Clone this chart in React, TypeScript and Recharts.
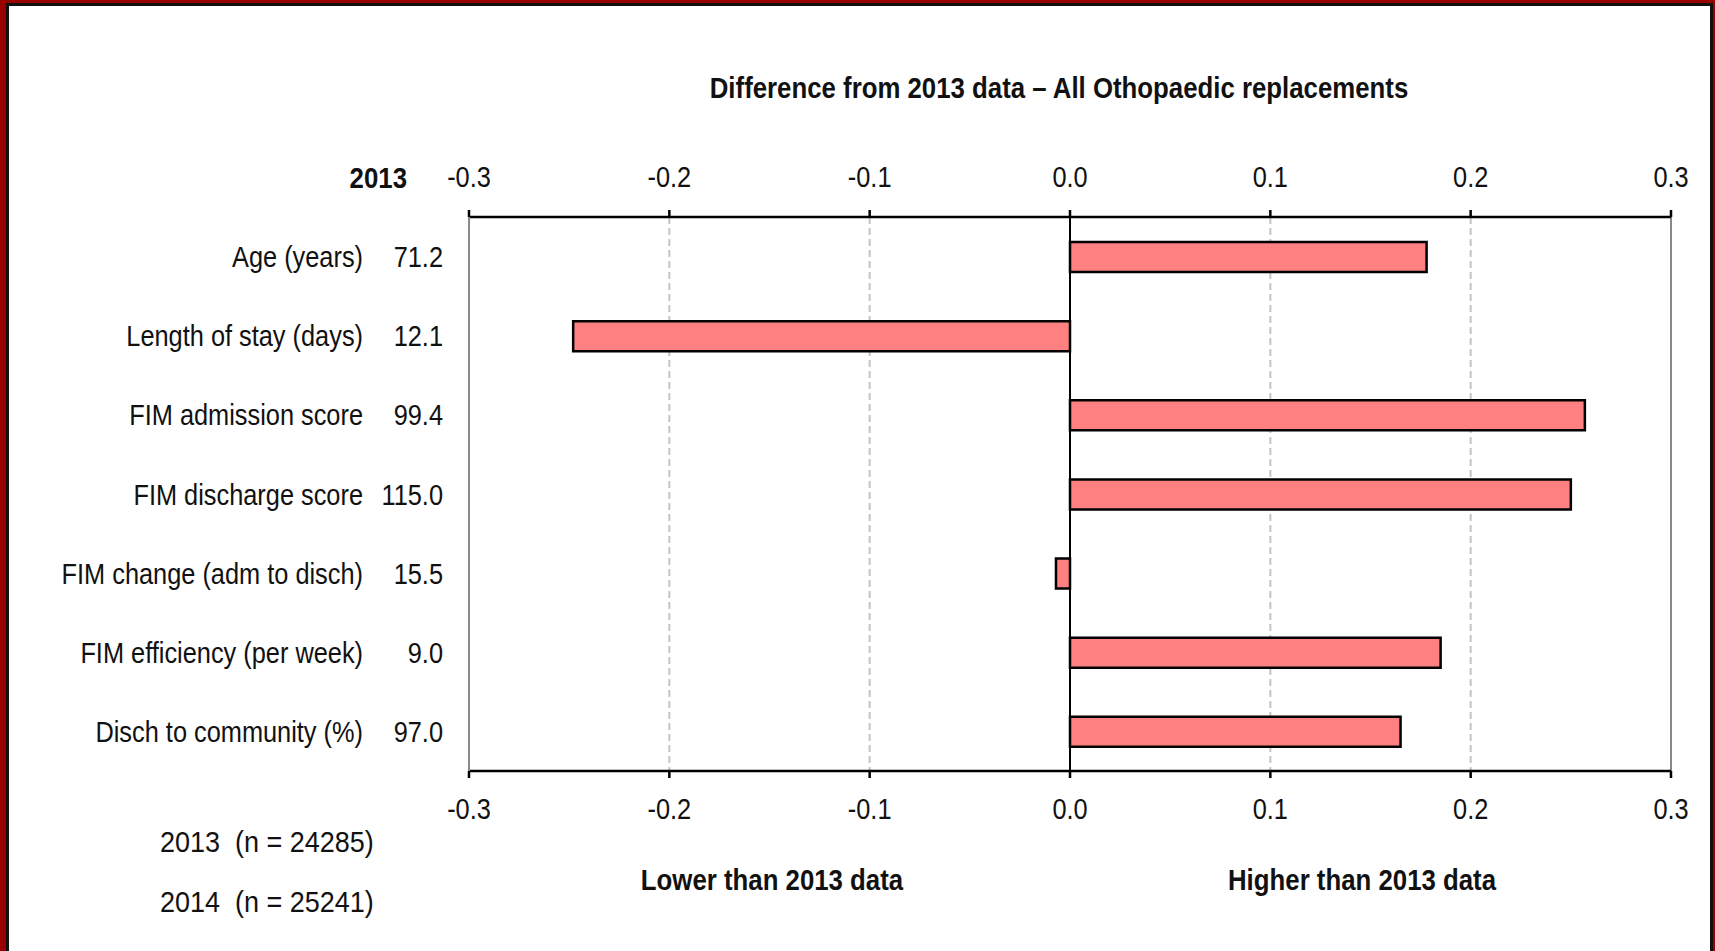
import React from 'react';
import { BarChart, Bar, XAxis, YAxis, CartesianGrid, ReferenceLine } from 'recharts';

const categories = [
  'Age (years)',
  'Length of stay (days)',
  'FIM admission score',
  'FIM discharge score',
  'FIM change (adm to disch)',
  'FIM efficiency (per week)',
  'Disch to community (%)',
];
const values2013 = ['71.2', '12.1', '99.4', '115.0', '15.5', '9.0', '97.0'];
const differences = [0.178, -0.248, 0.257, 0.25, -0.007, 0.185, 0.165];
const xTicks = [-0.3, -0.2, -0.1, 0, 0.1, 0.2, 0.3];

const chartTitle = 'Difference from 2013 data \u2013 All Othopaedic replacements';
const yearHeader = '2013';
const sampleLines = ['2013  (n = 24285)', '2014  (n = 25241)'];
const lowerLabel = 'Lower than 2013 data';
const higherLabel = 'Higher than 2013 data';

const data = categories.map((name, i) => ({ name, value2013: values2013[i], diff: differences[i] }));

const FONT = '"Liberation Sans", Arial, sans-serif';
const FS = 30;
const SX = 0.845;

const NText = ({ x, y, anchor = 'middle', bold = false, size = FS, sx = SX, dy = '0.35em', children }: any) => (
  <text
    transform={`translate(${x},${y}) scale(${sx},1)`}
    x={0}
    y={0}
    dy={dy}
    textAnchor={anchor}
    fontFamily={FONT}
    fontSize={size}
    fontWeight={bold ? 'bold' : 'normal'}
    fill="#111"
    style={{ whiteSpace: 'pre' }}
  >
    {children}
  </text>
);

const TopTick = (props: any) => {
  const { x, y, payload } = props;
  return <NText x={x} y={y} dy="0">{Number(payload.value).toFixed(1)}</NText>;
};

const BottomTick = (props: any) => {
  const { x, y, payload } = props;
  return <NText x={x} y={y} dy="0.71em">{Number(payload.value).toFixed(1)}</NText>;
};

const CatTick = (props: any) => {
  const { x, y, payload } = props;
  const idx = payload.index;
  return (
    <g>
      <NText x={x - 80} y={y} anchor="end">{payload.value}</NText>
      <NText x={x} y={y} anchor="end">{values2013[idx]}</NText>
    </g>
  );
};

export default function App() {
  return (
    <div style={{ position: 'absolute', left: 0, top: 0, width: 1715, height: 951, background: '#9b0000', overflow: 'hidden' }}>
      <div
        style={{
          position: 'absolute',
          left: 6,
          top: 3,
          width: 1707,
          height: 960,
          background: '#fff',
          border: '3px solid #111',
          boxSizing: 'border-box',
        }}
      />
      <div style={{ position: 'absolute', left: 0, top: 0 }}>
        <BarChart
          width={1715}
          height={951}
          layout="vertical"
          data={data}
          margin={{ top: 177, right: 44, bottom: 140, left: 0 }}
          barSize={30}
        >
          <CartesianGrid xAxisId="bottom" horizontal={false} stroke="#c4c4c4" strokeWidth={2} strokeDasharray="7 4" />
          <XAxis
            xAxisId="top"
            orientation="top"
            type="number"
            domain={[-0.3, 0.3]}
            ticks={xTicks}
            height={40}
            tickSize={7}
            tickMargin={23}
            axisLine={{ stroke: '#000', strokeWidth: 2.5 }}
            tickLine={{ stroke: '#000', strokeWidth: 2.5 }}
            tick={<TopTick />}
            allowDataOverflow
          />
          <XAxis
            xAxisId="bottom"
            orientation="bottom"
            type="number"
            domain={[-0.3, 0.3]}
            ticks={xTicks}
            height={40}
            tickSize={7}
            tickMargin={20}
            axisLine={{ stroke: '#000', strokeWidth: 2.5 }}
            tickLine={{ stroke: '#000', strokeWidth: 2.5 }}
            tick={<BottomTick />}
            allowDataOverflow
          />
          <YAxis
            type="category"
            dataKey="name"
            width={469}
            tickLine={false}
            tickSize={0}
            tickMargin={26}
            axisLine={{ stroke: '#888', strokeWidth: 2 }}
            tick={<CatTick />}
            interval={0}
          />
          <ReferenceLine xAxisId="bottom" x={0.3} stroke="#888" strokeWidth={2} />
          <ReferenceLine xAxisId="bottom" x={0} stroke="#000" strokeWidth={2} />
          <Bar
            xAxisId="bottom"
            dataKey="diff"
            fill="#ff8080"
            stroke="#000"
            strokeWidth={2.5}
            isAnimationActive={false}
          />
        </BarChart>
      </div>
      <svg width={1715} height={951} style={{ position: 'absolute', left: 0, top: 0, pointerEvents: 'none' }}>
        <NText x={1059} y={87} bold sx={0.86}>{chartTitle}</NText>
        <NText x={407} y={177} anchor="end" bold sx={0.86}>{yearHeader}</NText>
        {sampleLines.map((s, i) => (
          <NText key={s} x={160} y={841 + i * 60} anchor="start" sx={0.9}>{s}</NText>
        ))}
        <NText x={772} y={879} bold sx={0.86}>{lowerLabel}</NText>
        <NText x={1362} y={879} bold sx={0.86}>{higherLabel}</NText>
      </svg>
    </div>
  );
}
